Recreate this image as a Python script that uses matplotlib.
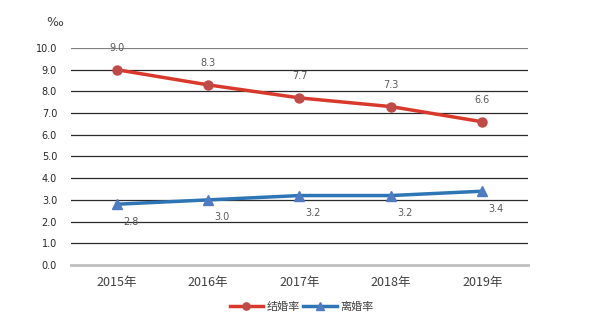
import matplotlib
matplotlib.use('Agg')
import matplotlib.pyplot as plt

plt.rcParams['font.family'] = ['Noto Sans CJK SC', 'DejaVu Sans']

years = ['2015年', '2016年', '2017年', '2018年', '2019年']
marriage = [9.0, 8.3, 7.7, 7.3, 6.6]
divorce = [2.8, 3.0, 3.2, 3.2, 3.4]
yticks = [0, 1, 2, 3, 4, 5, 6, 7, 8, 9, 10]

fig = plt.figure(figsize=(6.03, 3.23), dpi=100)
ax = fig.add_axes([0.1177, 0.1796, 0.7579, 0.6718])

x = range(len(years))
ax.plot(x, marriage, color='#D9392B', lw=2.5, marker='o', ms=6.5,
        markerfacecolor='#BE4B48', markeredgecolor='#BE4B48', label='结婚率', zorder=3)
ax.plot(x, divorce, color='#2E75B6', lw=2.5, marker='^', ms=7.5,
        markerfacecolor='#4F7BC0', markeredgecolor='#4F7BC0', label='离婚率', zorder=3)

for i, v in enumerate(marriage):
    ax.annotate(f'{v:.1f}', (i, v), xytext=(0, 12), textcoords='offset points',
                ha='center', va='bottom', fontsize=7, color='#595959', family='DejaVu Sans')
for i, v in enumerate(divorce):
    ax.annotate(f'{v:.1f}', (i, v), xytext=(10, -9), textcoords='offset points',
                ha='center', va='top', fontsize=7, color='#595959', family='DejaVu Sans')

ax.set_xlim(-0.5, 4.5)
ax.set_ylim(0, 10)
ax.set_yticks(yticks)
ax.set_yticklabels([f'{t:.1f}' for t in yticks], family='DejaVu Sans')
ax.set_xticks(list(x))
ax.set_xticklabels(years)
ax.tick_params(axis='y', length=0, labelsize=7, colors='#262626', pad=10)
ax.tick_params(axis='x', length=0, labelsize=9, colors='#404040', pad=8)

for t in yticks:
    if t == 0:
        continue
    c = '#808080' if t == 10 else '#2a2a2a'
    ax.axhline(t, color=c, lw=0.9, zorder=1)
for s in ['top', 'right', 'left']:
    ax.spines[s].set_visible(False)
ax.spines['bottom'].set_color('#BFBFBF')
ax.spines['bottom'].set_linewidth(2)

fig.text(0.09, 0.93, '‰', fontsize=9, color='#404040', ha='center', va='center',
         family='DejaVu Sans')

leg = fig.legend(loc='center', bbox_to_anchor=(0.5, 0.05), ncol=2, frameon=False,
                 fontsize=8, handlelength=3, columnspacing=0.3, handletextpad=0.3,
                 markerscale=0.8)
for t in leg.get_texts():
    t.set_color('#404040')

fig.savefig('out.png', dpi=100)
